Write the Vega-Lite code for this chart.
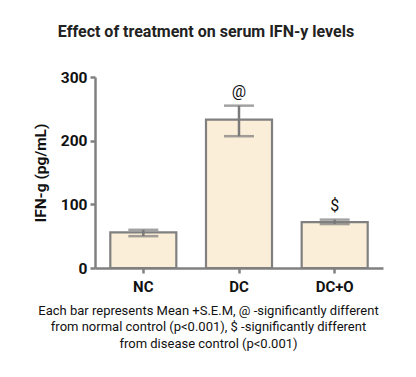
{
  "$schema": "https://vega.github.io/schema/vega-lite/v6.json",
  "width": 288,
  "height": 191,
  "autosize": {"type": "none"},
  "padding": {"left": 95, "top": 77, "right": 33, "bottom": 109},
  "background": "white",
  "config": {"font": "Roboto", "view": {"stroke": null}},
  "title": {
    "text": "Effect of treatment on serum IFN-y levels",
    "fontSize": 16,
    "fontWeight": "bold",
    "color": "#222222",
    "anchor": "middle",
    "dx": -33,
    "offset": 30
  },
  "data": {
    "values": [
      {"group": "NC", "mean": 56, "lo": 50, "hi": 60, "sig": ""},
      {"group": "DC", "mean": 233, "lo": 207, "hi": 255, "sig": "@"},
      {"group": "DC+O", "mean": 72, "lo": 69, "hi": 76, "sig": "$"}
    ]
  },
  "encoding": {
    "x": {
      "field": "group",
      "type": "nominal",
      "sort": ["NC", "DC", "DC+O"],
      "scale": {"paddingInner": 0.31, "paddingOuter": 0.16},
      "axis": {
        "labelAngle": 0,
        "labelFontSize": 15,
        "labelFontWeight": "bold",
        "labelColor": "#111111",
        "labelPadding": 6,
        "domainColor": "#808080",
        "domainWidth": 2.5,
        "tickColor": "#808080",
        "tickWidth": 2.5,
        "tickSize": 5,
        "title": [
          "Each bar represents Mean +S.E.M, @ -significantly different",
          "from normal control (p<0.001), $ -significantly different",
          "from disease control (p<0.001)"
        ],
        "titleFontSize": 13,
        "titleFontWeight": "normal",
        "titleColor": "#111111",
        "titleLineHeight": 16.5,
        "titleX": 113,
        "titleY": 36,
        "titleAlign": "center",
        "titleBaseline": "top"
      }
    }
  },
  "layer": [
    {
      "mark": {"type": "bar", "fill": "#fbeed8", "stroke": "#808080", "strokeWidth": 2.2},
      "encoding": {
        "y": {
          "field": "mean",
          "type": "quantitative",
          "scale": {"domain": [0, 300], "nice": false},
          "axis": {
            "values": [0, 100, 200, 300],
            "grid": false,
            "labelFontSize": 15.5,
            "labelFontWeight": "bold",
            "labelColor": "#111111",
            "labelPadding": 3,
            "domainColor": "#808080",
            "domainWidth": 2.5,
            "tickColor": "#808080",
            "tickWidth": 2.5,
            "tickSize": 5,
            "title": "IFN-g (pg/mL)",
            "titleFontSize": 15.5,
            "titleFontWeight": "bold",
            "titleColor": "#111111",
            "titleX": -55,
            "titleY": 95.5,
            "titleAlign": "center",
            "titleBaseline": "middle"
          }
        }
      }
    },
    {
      "mark": {"type": "rule", "color": "#7a7a7a", "strokeWidth": 2.5},
      "encoding": {
        "y": {"field": "lo", "type": "quantitative"},
        "y2": {"field": "hi"}
      }
    },
    {
      "mark": {"type": "tick", "color": "#7a7a7a", "thickness": 2.5, "size": 30},
      "encoding": {"y": {"field": "lo", "type": "quantitative"}}
    },
    {
      "mark": {"type": "tick", "color": "#7a7a7a", "thickness": 2.5, "size": 30},
      "encoding": {"y": {"field": "hi", "type": "quantitative"}}
    },
    {
      "mark": {"type": "text", "fontSize": 16, "color": "#111111", "dy": -14, "fontWeight": "normal"},
      "encoding": {
        "y": {"field": "hi", "type": "quantitative"},
        "text": {"field": "sig"}
      }
    }
  ]
}
